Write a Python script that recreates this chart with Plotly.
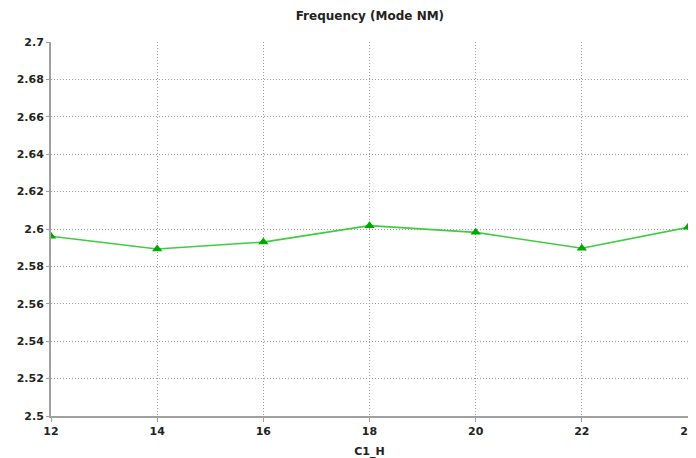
import plotly.graph_objects as go

c1_h = [12, 14, 16, 18, 20, 22, 24]
frequency = [2.5961, 2.5893, 2.5930, 2.6018, 2.5982, 2.5897, 2.6009]
x_ticks = [12, 14, 16, 18, 20, 22, 24]
y_ticks = [2.5, 2.52, 2.54, 2.56, 2.58, 2.6, 2.62, 2.64, 2.66, 2.68, 2.7]
y_tick_text = ["2.5", "2.52", "2.54", "2.56", "2.58", "2.6", "2.62", "2.64", "2.66", "2.68", "2.7"]

fig = go.Figure()
fig.add_trace(go.Scatter(
    x=c1_h, y=frequency, mode="lines+markers",
    line=dict(color="#40cc40", width=1.6),
    marker=dict(symbol="triangle-up", size=9, color="#00a800"),
    showlegend=False,
))

# the page body has an 8px default margin, so the figure is sized/offset to compensate
font = "Verdana, DejaVu Sans, sans-serif"
fig.update_layout(
    width=688, height=450,
    margin=dict(l=43, r=8, t=34, b=42),
    paper_bgcolor="white", plot_bgcolor="white",
    font=dict(family=font, size=11, color="#222"),
    title=dict(text="<b>Frequency (Mode NM)</b>", x=0.526, xanchor="center",
               y=0.982, yanchor="middle", font=dict(size=12, family=font, color="#222")),
    xaxis=dict(
        range=[12, 24], tickvals=x_ticks, ticktext=[f"<b>{v}</b>" for v in x_ticks],
        showgrid=True, gridcolor="#9c9c9c", griddash="1px,2px", gridwidth=1,
        showline=True, linecolor="#a0a0a0", linewidth=2,
        ticks="outside", ticklen=4, tickcolor="#a0a0a0",
        zeroline=False, automargin=False, ticklabeloverflow="allow",
        title=dict(text="<b>C1_H</b>", standoff=12, font=dict(size=11)),
    ),
    yaxis=dict(
        range=[2.5, 2.7], tickvals=y_ticks, ticktext=[f"<b>{t}</b>" for t in y_tick_text],
        showgrid=True, gridcolor="#9c9c9c", griddash="1px,2px", gridwidth=1,
        showline=True, linecolor="#a0a0a0", linewidth=2, mirror=True,
        ticks="outside", ticklen=3, tickcolor="#a0a0a0",
        zeroline=False, automargin=False, ticklabeloverflow="allow",
    ),
)

fig.write_html("out.html")
